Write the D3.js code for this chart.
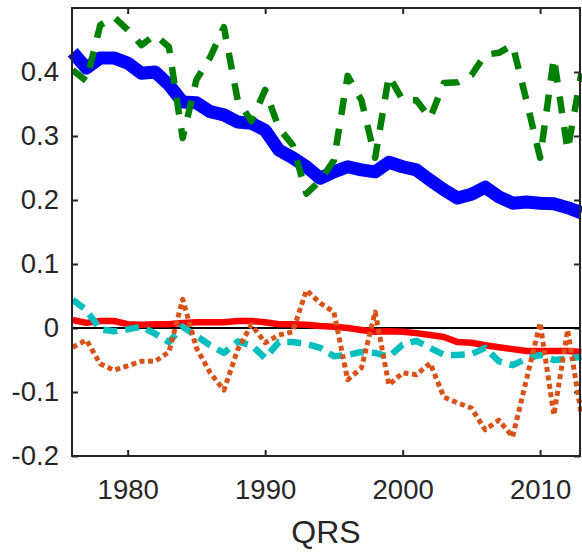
<!DOCTYPE html>
<html>
<head>
<meta charset="utf-8">
<script src="https://cdn.jsdelivr.net/npm/d3@7"></script>
<style>
  html, body { margin: 0; padding: 0; background: #fff; }
  svg { display: block; }
  text { font-family: Arial, "Liberation Sans", Helvetica, sans-serif; fill: #262626; }
</style>
</head>
<body>
<svg id="chart" width="582" height="554"></svg>
<script>
// ---- data ----
const years = [1976,1977,1978,1979,1980,1981,1982,1983,1984,1985,
               1986,1987,1988,1989,1990,1991,1992,1993,1994,1995,
               1996,1997,1998,1999,2000,2001,2002,2003,2004,2005,
               2006,2007,2008,2009,2010,2011,2012,2013];

const blueSeries = [0.431,0.406,0.422,0.422,0.414,0.398,0.400,0.380,0.353,0.352,
                    0.338,0.333,0.322,0.320,0.309,0.278,0.266,0.252,0.234,0.244,
                    0.252,0.247,0.244,0.259,0.252,0.247,0.231,0.216,0.203,0.209,
                    0.220,0.205,0.195,0.197,0.195,0.194,0.188,0.180];

const greenSeries = [0.403,0.386,0.473,0.486,0.466,0.442,0.458,0.439,0.297,0.388,
                     0.423,0.470,0.356,0.323,0.372,0.3125,0.286,0.210,0.230,0.262,
                     0.394,0.356,0.266,0.394,0.356,0.356,0.328,0.383,0.384,0.395,
                     0.427,0.430,0.442,0.356,0.266,0.422,0.278,0.398];

const redSeries = [0.0125,0.008,0.011,0.011,0.006,0.005,0.006,0.006,0.008,0.009,
                   0.009,0.009,0.011,0.011,0.009,0.006,0.006,0.005,0.003,0.002,
                   0.000,-0.003,-0.006,-0.005,-0.006,-0.008,-0.011,-0.014,-0.022,-0.023,
                   -0.027,-0.030,-0.033,-0.036,-0.036,-0.036,-0.036,-0.0375];

const cyanSeries = [0.044,0.028,-0.002,-0.005,-0.002,0.002,-0.009,-0.022,0.002,-0.0125,
                    -0.027,-0.039,-0.021,-0.027,-0.047,-0.022,-0.022,-0.025,-0.031,-0.044,
                    -0.042,-0.0375,-0.039,-0.045,-0.026,-0.020,-0.031,-0.042,-0.042,-0.041,
                    -0.031,-0.052,-0.058,-0.048,-0.042,-0.050,-0.048,-0.045];

const orangeSeries = [-0.030,-0.019,-0.056,-0.066,-0.059,-0.052,-0.052,-0.0375,0.045,-0.031,
                      -0.070,-0.097,-0.034,0.005,-0.023,-0.011,-0.006,0.059,0.039,0.025,
                      -0.081,-0.0625,0.025,-0.089,-0.070,-0.073,-0.055,-0.108,-0.117,-0.125,
                      -0.159,-0.144,-0.170,-0.081,0.008,-0.136,-0.003,-0.136];

const xTicks = [1980, 1990, 2000, 2010];
const yTicks = [-0.2, -0.1, 0, 0.1, 0.2, 0.3, 0.4];
const xLabel = "QRS";

// ---- layout ----
const L = 72, R = 580, T = 8, B = 456;
const svg = d3.select("#chart");

const x = d3.scaleLinear().domain([1975.95, 2012.9]).range([L, R]);
const y = d3.scaleLinear().domain([-0.2, 0.5]).range([B, T]);

const axisColor = "#262626";
const fmtY = d => (d === 0 ? "0" : d3.format(".1f")(d).replace("−", "-"));

// axes
const gLeft = svg.append("g").attr("transform", `translate(${L},0)`)
  .call(d3.axisLeft(y).tickValues(yTicks).tickFormat(fmtY).tickSizeInner(-6).tickSizeOuter(0).tickPadding(13));
const gBottom = svg.append("g").attr("transform", `translate(0,${B})`)
  .call(d3.axisBottom(x).tickValues(xTicks).tickFormat(d3.format("d")).tickSizeInner(-6).tickSizeOuter(0).tickPadding(23));
const gTop = svg.append("g").attr("transform", `translate(0,${T})`)
  .call(d3.axisTop(x).tickValues(xTicks).tickFormat("").tickSizeInner(-6).tickSizeOuter(0));
const gRight = svg.append("g").attr("transform", `translate(${R},0)`)
  .call(d3.axisRight(y).tickValues(yTicks).tickFormat("").tickSizeInner(-6).tickSizeOuter(0));

[gLeft, gBottom, gTop, gRight].forEach(g => {
  g.select(".domain").remove();
  g.selectAll(".tick line").attr("stroke", axisColor).attr("stroke-width", 2);
  g.selectAll(".tick text").attr("font-size", 27.5).attr("fill", axisColor)
    .style("font-family", "Arial, 'Liberation Sans', sans-serif");
});

// zero line
svg.append("line")
  .attr("x1", L).attr("x2", R).attr("y1", y(0)).attr("y2", y(0))
  .attr("stroke", "#000").attr("stroke-width", 2);

const line = d3.line().x((d, i) => x(years[i])).y(d => y(d));

function drawSeries(vals, color, width, dash) {
  const p = svg.append("path").datum(vals)
    .attr("d", line)
    .attr("fill", "none")
    .attr("stroke", color)
    .attr("stroke-width", width)
    .attr("stroke-linejoin", "round");
  if (dash) p.attr("stroke-dasharray", dash);
}

drawSeries(blueSeries, "#0000ff", 13, null);
drawSeries(greenSeries, "#008000", 6.5, "17,14");
drawSeries(redSeries, "#ff0000", 6.5, null);
drawSeries(cyanSeries, "#00bfbf", 6.5, "14,8");
drawSeries(orangeSeries, "#d95319", 5, "5,3.5");

// frame box
svg.append("rect")
  .attr("x", L).attr("y", T).attr("width", R - L).attr("height", B - T)
  .attr("fill", "none").attr("stroke", axisColor).attr("stroke-width", 2);

// x label
svg.append("text")
  .attr("x", (L + R) / 2).attr("y", 543)
  .attr("text-anchor", "middle")
  .attr("font-size", 32)
  .text(xLabel);
</script>
</body>
</html>
